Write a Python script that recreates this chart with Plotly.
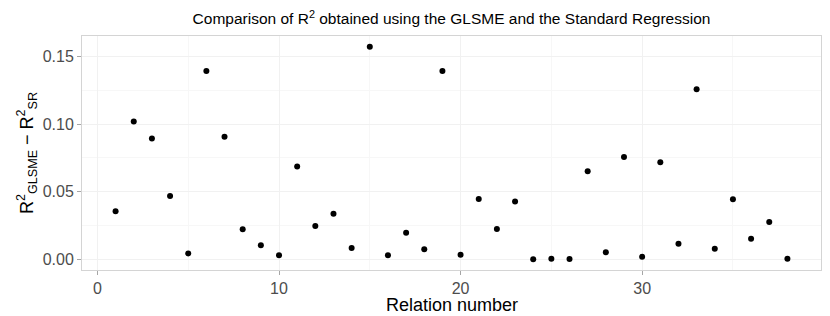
import plotly.graph_objects as go

relation = list(range(1, 39))
r2_diff = [0.0356, 0.1019, 0.0893, 0.0469, 0.0044, 0.1393, 0.0906, 0.0222, 0.0104, 0.0030,
           0.0686, 0.0247, 0.0337, 0.0084, 0.1573, 0.0030, 0.0197, 0.0074, 0.1393, 0.0034,
           0.0447, 0.0224, 0.0427, 0.0000, 0.0005, 0.0002, 0.0651, 0.0052, 0.0756, 0.0019,
           0.0718, 0.0116, 0.1257, 0.0079, 0.0444, 0.0153, 0.0276, 0.0005]

x_ticks = [0, 10, 20, 30]
y_ticks = [0.00, 0.05, 0.10, 0.15]
y_tick_labels = ["0.00", "0.05", "0.10", "0.15"]

fig = go.Figure()
fig.add_trace(go.Scatter(
    x=relation, y=r2_diff, mode="markers",
    marker=dict(color="black", size=6),
    showlegend=False,
))

font_family = "Liberation Sans, Arial, sans-serif"
xr = [1 - 0.05 * 37, 38 + 0.05 * 37]
ymax = max(r2_diff)
yr = [-0.05 * ymax, ymax * 1.05]

W, H = 822, 308
ML, MR, MT, MB = 74, 9, 28, 46
panel_h = H - MT - MB

fig.update_layout(
    width=W, height=H,
    margin=dict(l=ML, r=MR, t=MT, b=MB),
    paper_bgcolor="white", plot_bgcolor="white",
    font=dict(family=font_family, color="black"),
    title=dict(
        text="Comparison of R<sup>2</sup> obtained using the GLSME and the Standard Regression",
        x=(ML + W - MR) / 2 / W, xanchor="center", y=1 - 11 / H, yanchor="middle",
        font=dict(size=15.5, color="black"),
    ),
    annotations=[dict(
        text="Relation number", xref="paper", yref="paper",
        x=0.5, y=-35 / panel_h, xanchor="center", yanchor="middle",
        showarrow=False, font=dict(size=18, color="black"),
    )],
)
fig.update_xaxes(
    range=xr, tickmode="array", tickvals=x_ticks, ticktext=[str(v) for v in x_ticks],
    automargin=False,
    showgrid=True, gridcolor="#f1f1f1", gridwidth=1,
    minor=dict(showgrid=True, gridcolor="#f7f7f7", gridwidth=1, dtick=5, tick0=0),
    zeroline=False, showline=True, linecolor="#d4d4d4", linewidth=1, mirror=True,
    ticks="outside", ticklen=4, tickcolor="#a6a6a6", tickwidth=1,
    tickfont=dict(size=16, color="#4d4d4d"),
)
fig.update_yaxes(
    range=yr, tickmode="array", tickvals=y_ticks, ticktext=y_tick_labels,
    automargin=False,
    showgrid=True, gridcolor="#f1f1f1", gridwidth=1,
    minor=dict(showgrid=True, gridcolor="#f7f7f7", gridwidth=1, dtick=0.025, tick0=0),
    zeroline=False, showline=True, linecolor="#d4d4d4", linewidth=1, mirror=True,
    ticks="outside", ticklen=4, tickcolor="#a6a6a6", tickwidth=1,
    tickfont=dict(size=16, color="#4d4d4d"),
    title=dict(text="R<sup>2</sup><sub>GLSME</sub> − R<sup>2</sup><sub>SR</sub>",
               font=dict(size=18, color="black"), standoff=4),
)

fig.write_html("out.html")
